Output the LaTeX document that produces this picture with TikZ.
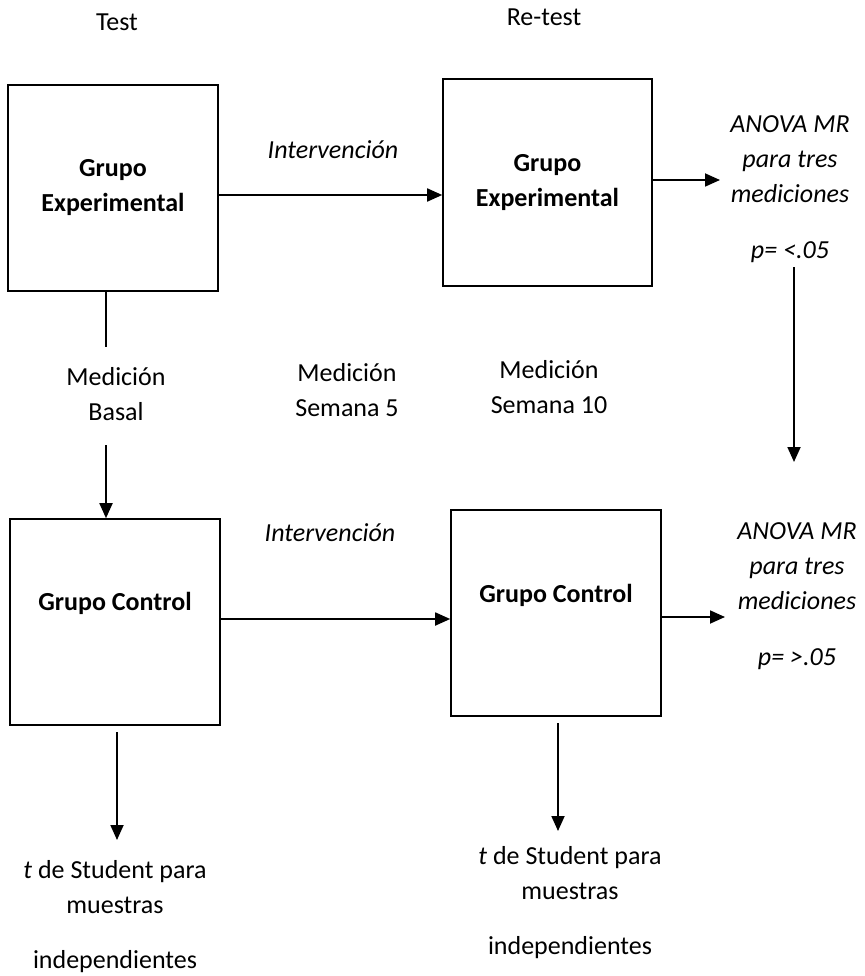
\documentclass[tikz,border=0pt]{standalone}
\usepackage{fontspec}
\setmainfont{Carlito}
\usetikzlibrary{positioning,arrows.meta}

\tikzset{
  caja/.style={draw, line width=1.6pt, minimum width=210pt, minimum height=206pt, inner sep=0pt},
  texto/.style={align=center, inner sep=0pt, font=\fontsize{26}{35}\selectfont},
  negrita/.style={texto, font=\fontsize{26}{35}\selectfont\bfseries},
  cursiva/.style={texto, font=\fontsize{26}{35}\selectfont\itshape},
  flecha/.style={line width=1.8pt, -{Triangle[length=15pt,width=13pt]}},
  linea/.style={line width=1.8pt}
}

\begin{document}
\begin{tikzpicture}[x=1pt, y=-1pt]
\useasboundingbox (0,0) rectangle (864,976);

\node[texto] (test) at (117,22) {Test};
\node[texto] (retest) at (544,17) {Re-test};

\node[caja] (ge1) at (113,188) {};
\node[negrita] (ge1t) at (ge1.center) {Grupo\\Experimental};
\node[caja, minimum width=209pt, minimum height=207pt] (ge2) at (547.5,182.5) {};
\node[negrita] (ge2t) at (ge2.center) {Grupo\\Experimental};

\node[cursiva] (int1) at (333,150) {Intervención};
\node[cursiva] (anova1) at (790,189) {ANOVA MR\\para tres\\mediciones\\[21pt]p= <.05};

\node[texto] (basal) at (116,394.5) {Medición\\Basal};
\node[texto] (sem5) at (347,390.5) {Medición\\Semana 5};
\node[texto] (sem10) at (549,387.5) {Medición\\Semana 10};

\node[caja] (gc1) at (115,622) {};
\node[negrita] (gc1t) at (115,603) {Grupo Control};
\node[caja] (gc2) at (556,613) {};
\node[negrita] (gc2t) at (556,595) {Grupo Control};

\node[cursiva] (int2) at (330,533) {Intervención};
\node[cursiva] (anova2) at (797,596) {ANOVA MR\\para tres\\mediciones\\[21pt]p= >.05};

\node[texto] (stud1) at (115,917) {\textit{t} de Student para\\muestras\\[20pt]independientes};
\node[texto] (stud2) at (570,902.5) {\textit{t} de Student para\\muestras\\[20pt]independientes};

\coordinate (b1) at (106,347);
\coordinate (b2) at (106,445);
\coordinate (a1) at (720,180);
\coordinate (p1) at (794,267);
\coordinate (p2) at (794,462);
\coordinate (a2) at (725,617);
\coordinate (c1) at (117,732);
\coordinate (c2) at (117,840);
\coordinate (d1) at (558,723);
\coordinate (d2) at (558,831);

\draw[flecha] (ge1.east |- 0,195) -- (ge2.west |- 0,195);
\draw[flecha] (ge2.east |- a1) -- (a1);
\draw[linea] (ge1.south -| b1) -- (b1);
\draw[flecha] (b2) -- (b2 |- gc1.north);
\draw[flecha] (p1) -- (p2);
\draw[flecha] (gc1.east |- 0,619) -- (gc2.west |- 0,619);
\draw[flecha] (gc2.east |- a2) -- (a2);
\draw[flecha] (c1) -- (c2);
\draw[flecha] (d1) -- (d2);
\end{tikzpicture}
\end{document}
